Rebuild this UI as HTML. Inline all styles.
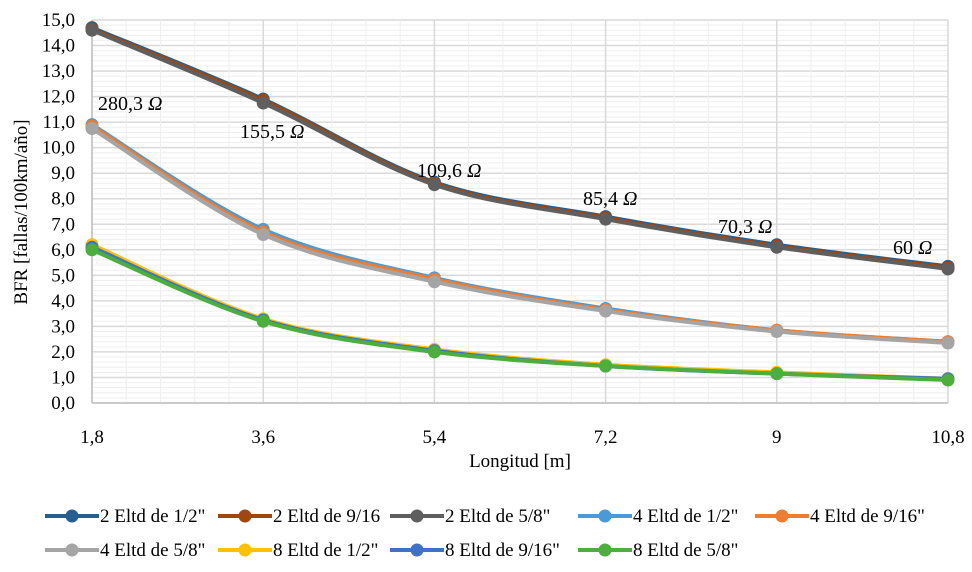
<!DOCTYPE html>
<html><head><meta charset="utf-8"><style>
body{margin:0;background:#fff}
svg{display:block;font-family:"Liberation Serif",serif}
</style></head><body>
<svg id="chart" width="972" height="572"></svg>
<script>
const categories=["1,8","3,6","5,4","7,2","9","10,8"];
const yTicks=[0,1,2,3,4,5,6,7,8,9,10,11,12,13,14,15];
const seriesNames=['2 Eltd de 1/2"','2 Eltd de 9/16','2 Eltd de 5/8"','4 Eltd de 1/2"','4 Eltd de 9/16"','4 Eltd de 5/8"','8 Eltd de 1/2"','8 Eltd de 9/16"','8 Eltd de 5/8"'];
const s1=[14.7,11.9,8.65,7.3,6.2,5.35];
const s2=[14.65,11.85,8.6,7.25,6.15,5.3];
const s3=[14.6,11.75,8.55,7.2,6.1,5.25];
const s4=[10.9,6.8,4.9,3.7,2.85,2.4];
const s5=[10.85,6.7,4.85,3.65,2.85,2.4];
const s6=[10.75,6.6,4.75,3.6,2.8,2.35];
const s7=[6.2,3.3,2.1,1.5,1.2,0.95];
const s8=[6.1,3.25,2.05,1.45,1.15,0.95];
const s9=[6.0,3.2,2.0,1.45,1.15,0.9];
const annotations=["280,3","155,5","109,6","85,4","70,3","60"];
const colors=["#245f8f","#a0460f","#5f5f5f","#4a9ad8","#ef7d31","#a5a5a5","#ffc000","#3f72c6","#4cae3c"];
const allSeries=[s1,s2,s3,s4,s5,s6,s7,s8,s9];

const NS="http://www.w3.org/2000/svg";
const svg=document.getElementById('chart');
const L=92,R=948,T=20,B=403,YMAX=15;
const xs=i=>L+i*(R-L)/(categories.length-1);
const ys=v=>B-v/YMAX*(B-T);
function mk(tag,at,parent){const e=document.createElementNS(NS,tag);for(const k in at)e.setAttribute(k,at[k]);(parent||svg).appendChild(e);return e;}

const grid=mk('g',{});


for(let v=0;v<=YMAX+1e-9;v+=0.2){const maj=Math.abs(v-Math.round(v))<1e-6;mk('line',{x1:L,x2:R,y1:ys(v),y2:ys(v),stroke:maj?'#d9d9d9':'#efefef','stroke-width':maj?1.5:1},grid);}
const nSub=(categories.length-1)*5;
for(let j=0;j<=nSub;j++){const x=L+j*(R-L)/nSub;mk('line',{x1:x,x2:x,y1:T,y2:B,stroke:j%5===0?'#d9d9d9':'#efefef','stroke-width':j%5===0?1.5:1},grid);}
mk('line',{x1:L,x2:L,y1:T,y2:B,stroke:'#bfbfbf','stroke-width':1.5},grid);
mk('line',{x1:L,x2:R,y1:B,y2:B,stroke:'#bfbfbf','stroke-width':1.5},grid);

yTicks.forEach(v=>{const t=mk('text',{x:L-17,y:ys(v)+6,'text-anchor':'end','font-size':19,fill:'#000'});t.textContent=v.toFixed(1).replace('.',',');

});
categories.forEach((c,i)=>{const t=mk('text',{x:xs(i),y:B+40,'text-anchor':'middle','font-size':19});t.textContent=c;

});
let t=mk('text',{x:520,y:467,'text-anchor':'middle','font-size':19});t.textContent='Longitud [m]';


t=mk('text',{x:0,y:0,'text-anchor':'middle','font-size':19,transform:'translate(27,212) rotate(-90)'});t.textContent='BFR [fallas/100km/año]';



function curve(vals){const p=vals.map((v,i)=>[xs(i),ys(v)]);let d=`M${p[0][0]},${p[0][1]}`;
for(let i=0;i<p.length-1;i++){const p0=p[Math.max(0,i-1)],p1=p[i],p2=p[i+1],p3=p[Math.min(p.length-1,i+2)];const k=6;
d+=` C${p1[0]+(p2[0]-p0[0])/k},${p1[1]+(p2[1]-p0[1])/k} ${p2[0]-(p3[0]-p1[0])/k},${p2[1]-(p3[1]-p1[1])/k} ${p2[0]},${p2[1]}`;}return d;}
allSeries.forEach((s,si)=>{const g=mk('g',{});


mk('path',{d:curve(s),fill:'none',stroke:colors[si],'stroke-width':4},g);
s.forEach((v,i)=>{const c=mk('circle',{cx:xs(i),cy:ys(v),r:6.5,fill:colors[si]},g);

});});

const annX=[98,240,417,583,718,893];
annotations.forEach((a,i)=>{const y=[110,138,177,205,233,254][i];
const t=mk('text',{x:annX[i],y:y,'font-size':20});


t.appendChild(document.createTextNode(a+' '));
const sp=mk('tspan',{'font-style':'italic'},t);sp.textContent='Ω';});

const legX=[45,218,390,578,755];const legY=[516,550];
seriesNames.forEach((n,i)=>{const x=legX[i%5],y=legY[Math.floor(i/5)];const g=mk('g',{});


mk('line',{x1:x,x2:x+54,y1:y,y2:y,stroke:colors[i],'stroke-width':4},g);
mk('circle',{cx:x+27,cy:y,r:6.5,fill:colors[i]},g);
const t=mk('text',{x:x+55,y:y+6,'font-size':19},g);t.textContent=n;});
</script>
</body></html>
